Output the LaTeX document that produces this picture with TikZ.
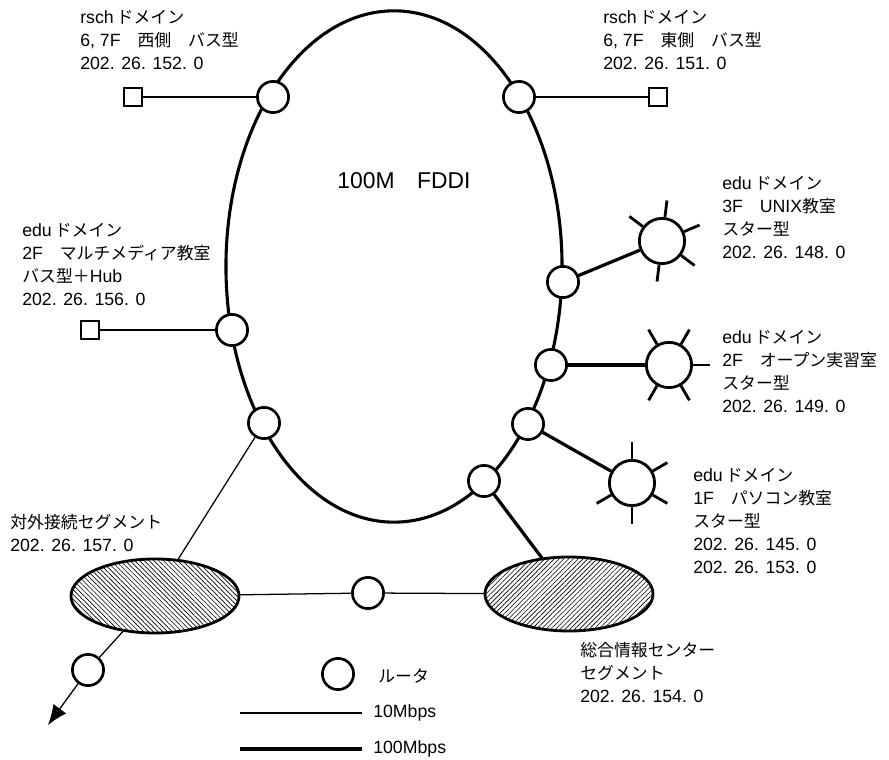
\documentclass[tikz,border=0pt]{standalone}
\usepackage{fontspec}
\setmainfont{Liberation Sans}[Scale=1.05]
\newfontfamily\jpfont{Noto Sans CJK JP}
\usepackage{tikz}
\usetikzlibrary{arrows.meta,positioning,calc,shapes.geometric,patterns.meta}
\tikzset{
  ring/.style={
    ellipse,
    draw=black,
    line width=2.2pt,
    minimum width=8.4cm,
    minimum height=12.78cm,
    inner sep=0pt
  },
  router/.style={
    circle,
    draw=black,
    fill=white,
    line width=1.9pt,
    minimum size=0.78cm,
    inner sep=0pt
  },
  hub/.style={
    circle,
    draw=black,
    fill=white,
    line width=2pt,
    minimum size=1.13cm,
    inner sep=0pt
  },
  term/.style={
    rectangle,
    draw=black,
    fill=white,
    line width=1.6pt,
    minimum size=0.46cm,
    inner sep=0pt
  },
  segment/.style={
    ellipse,
    draw=black,
    line width=2pt,
    minimum width=4.2cm,
    minimum height=1.85cm,
    inner sep=0pt
  },
  lbl/.style={
    anchor=north west,
    align=left,
    inner sep=0pt,
    font=\fontsize{12pt}{16.3pt}\selectfont
  },
  legtxt/.style={
    anchor=west,
    inner sep=0pt,
    font=\fontsize{12pt}{14pt}\selectfont
  },
  slow/.style={line width=0.9pt},
  fast/.style={line width=2.3pt},
  spike/.style={line width=2pt}
}

\begin{document}
\begin{tikzpicture}[x=0.025cm, y=-0.025cm]
  \useasboundingbox (0,0) rectangle (889,760);

  \node[ring] (fddi) at (394,266.5) {};
  \node[font=\fontsize{15.5pt}{19pt}\selectfont] (fdditxt) at (404,181) {100M\hspace{16pt}FDDI};

  % routers on the ring
  \node[router] (rnw) at (273,97) {};
  \node[router] (rne) at (519,97) {};
  \node[router] (rw) at (232,330) {};
  \node[router] (rsw) at (264,423) {};
  \node[router] (re1) at (563,282) {};
  \node[router] (re2) at (551,365) {};
  \node[router] (re3) at (528,424) {};
  \node[router] (re4) at (484,481) {};

  \node[term] (tnw) at (133,97) {};
  \node[term] (tne) at (658,97) {};
  \node[term] (tw) at (90,330) {};

  \node[hub] (h1) at (662,241) {};
  \node[hub] (h2) at (669,365) {};
  \node[hub] (h3) at (632,483) {};

  \node[segment, pattern={Lines[angle=-45,distance=2.4pt,line width=0.45pt]}] (sout) at (155,596) {};
  \node[segment, pattern={Lines[angle=45,distance=2.4pt,line width=0.45pt]}] (scenter) at (569,594) {};
  \node[router] (rmid) at (368,593) {};
  \node[router] (rext) at (88,670) {};
  \coordinate (ext) at (48,725);

  \draw[slow] (tnw) -- (rnw);
  \draw[slow] (rne) -- (tne);
  \draw[slow] (tw) -- (rw);
  \draw[fast] (re1) -- (h1);
  \draw[fast] (re2) -- (h2);
  \draw[fast] (re3) -- (h3);
  \draw[fast] (re4) -- (scenter);
  \draw[slow] (rsw) -- (sout);
  \draw[slow] (sout) -- (rext);
  \draw[slow,-{Latex[length=5mm,width=4mm]}] (rext) -- (ext);
  \draw[slow] (sout) -- (rmid);
  \draw[slow] (rmid) -- (scenter);

  \foreach \a in {23,83,143,263,323}
    \draw[spike] (h1.\a) -- ($(h1.center)!1.7!(h1.\a)$);
  \foreach \a in {0,60,120,240,300}
    \draw[spike] (h2.\a) -- ($(h2.center)!1.7!(h2.\a)$);
  \foreach \a in {30,90,210,270,330}
    \draw[spike] (h3.\a) -- ($(h3.center)!1.7!(h3.\a)$);

  \node[lbl] (lnw) at (80,10) {rsch\,{\jpfont ドメイン}\\6, 7F{\jpfont 　西側　バス型}\\202. 26. 152. 0};
  \node[lbl] (lne) at (603,10) {rsch\,{\jpfont ドメイン}\\6, 7F{\jpfont 　東側　バス型}\\202. 26. 151. 0};
  \node[lbl] (lw) at (22,223) {edu\,{\jpfont ドメイン}\\2F{\jpfont 　マルチメディア教室}\\{\jpfont バス型＋}Hub\\202. 26. 156. 0};
  \node[lbl] (lh1) at (722,176) {edu\,{\jpfont ドメイン}\\3F{\jpfont 　}UNIX{\jpfont 教室}\\{\jpfont スター型}\\202. 26. 148. 0};
  \node[lbl] (lh2) at (722,330) {edu\,{\jpfont ドメイン}\\2F{\jpfont 　オープン実習室}\\{\jpfont スター型}\\202. 26. 149. 0};
  \node[lbl] (lh3) at (693,468) {edu\,{\jpfont ドメイン}\\1F{\jpfont 　パソコン教室}\\{\jpfont スター型}\\202. 26. 145. 0\\202. 26. 153. 0};
  \node[lbl] (lout) at (10,514) {{\jpfont 対外接続セグメント}\\202. 26. 157. 0};
  \node[lbl] (lcenter) at (580,642) {{\jpfont 総合情報センター}\\{\jpfont セグメント}\\202. 26. 154. 0};

  % legend
  \node[router] (legrouter) at (338,674) {};
  \node[legtxt] (legroutertxt) at (378,676) {\jpfont ルータ};
  \coordinate (slowa) at (240,713);
  \coordinate (slowb) at (362,713);
  \draw[slow] (slowa) -- (slowb);
  \node[legtxt] (slowtxt) at (373,713) {10Mbps};
  \coordinate (fasta) at (240,749);
  \coordinate (fastb) at (362,749);
  \draw[fast] (fasta) -- (fastb);
  \node[legtxt] (fasttxt) at (373,749) {100Mbps};
\end{tikzpicture}
\end{document}
